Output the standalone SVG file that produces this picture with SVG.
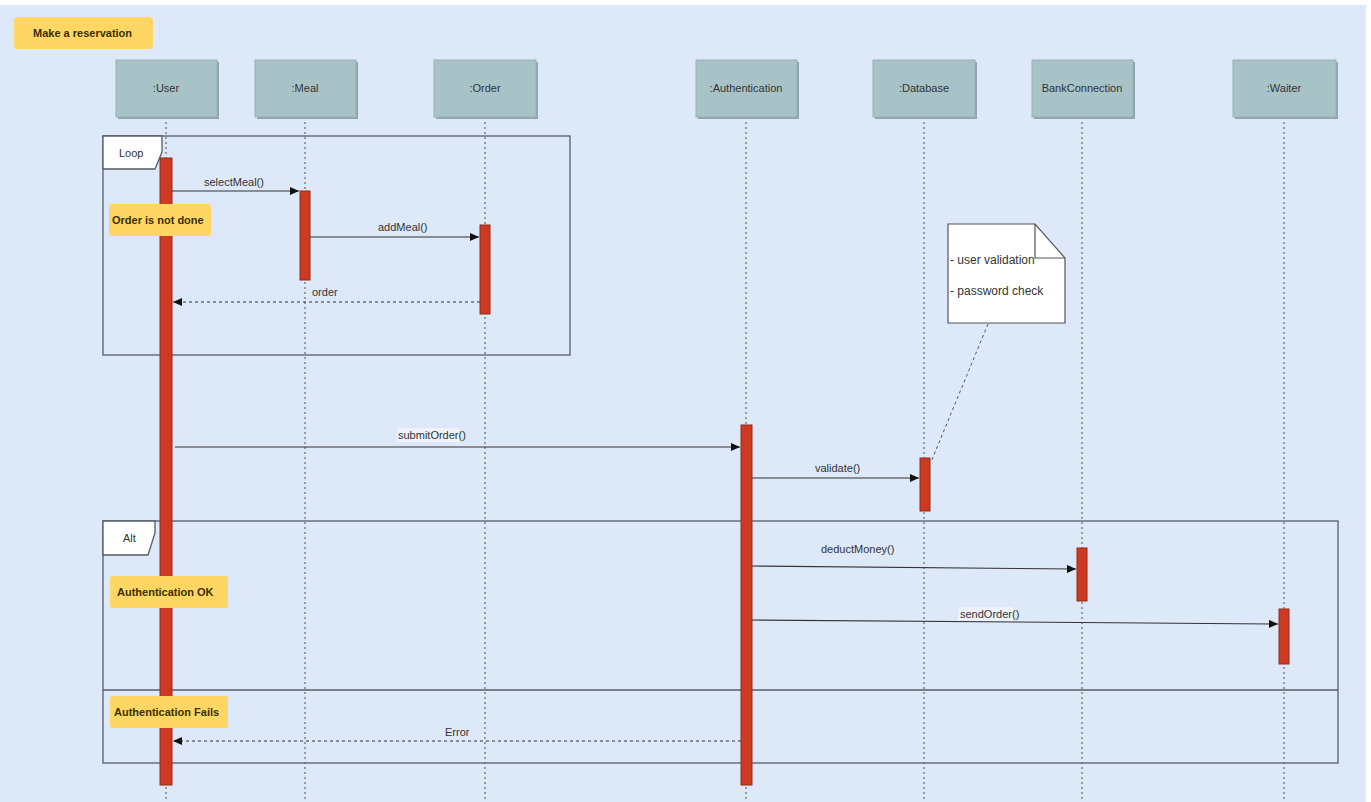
<svg xmlns="http://www.w3.org/2000/svg" width="1371" height="802" viewBox="0 0 1371 802">
<style>
.t{font-family:"Liberation Sans",Arial,sans-serif;font-size:11px;fill:#333}
.n{font-family:"Liberation Sans",Arial,sans-serif;font-size:12px;fill:#333}
.b{font-family:"Liberation Sans",Arial,sans-serif;font-size:11px;font-weight:bold;fill:#3a2e00}
.head{fill:#a8c3c8;stroke:#97b0b5;stroke-width:1}
.sh{fill:#8fa5aa}
.life{stroke:#666;stroke-width:1.2;stroke-dasharray:2 3;fill:none}
.act{fill:#cc3a22;stroke:#9a2a18;stroke-width:1}
.frame{fill:none;stroke:#555c66;stroke-width:1.3}
.tab{fill:#fff;stroke:#555c66;stroke-width:1.3}
.msg{stroke:#333;stroke-width:1.1;fill:none;marker-end:url(#ah)}
.ret{stroke:#333;stroke-width:1.1;fill:none;stroke-dasharray:3 3;marker-end:url(#ah)}
.yn{fill:#fdd663}
</style>
<defs>
<marker id="ah" markerWidth="10" markerHeight="8" refX="9" refY="4" orient="auto" markerUnits="userSpaceOnUse">
<path d="M0,0 L9,4 L0,8 Z" fill="#111"/>
</marker>
</defs>
<rect x="0" y="0" width="1371" height="802" fill="#ffffff"/>
<rect x="0" y="5" width="1366" height="797" fill="#dde8f9"/>

<g id="title">
<rect class="yn" x="14" y="17" width="139" height="32" rx="4"/>
<text class="b" x="33" y="37" font-size="12">Make a reservation</text>
</g>

<g id="frames">
<rect class="frame" x="103" y="136" width="467" height="219"/>
<path class="tab" d="M103,136 H162 V152 L155,169 H103 Z"/>
<text class="t" x="119" y="157">Loop</text>
<rect class="frame" x="103" y="521" width="1235" height="242"/>
<line x1="103" y1="690" x2="1338" y2="690" stroke="#555c66" stroke-width="1.3"/>
<path class="tab" d="M103,521 H155 V533 L148,555 H103 Z"/>
<text class="t" x="123" y="542">Alt</text>
</g>

<g id="lifelines">
<line class="life" x1="166" y1="117" x2="166" y2="802"/>
<line class="life" x1="305" y1="117" x2="305" y2="802"/>
<line class="life" x1="485" y1="117" x2="485" y2="802"/>
<line class="life" x1="746" y1="117" x2="746" y2="802"/>
<line class="life" x1="924" y1="117" x2="924" y2="802"/>
<line class="life" x1="1082" y1="117" x2="1082" y2="802"/>
<line class="life" x1="1284" y1="117" x2="1284" y2="802"/>
</g>

<g id="user"><rect class="sh" x="118" y="62" width="101" height="57"/><rect class="head" x="116" y="60" width="101" height="57"/><text class="t" x="166" y="92" text-anchor="middle">:User</text></g>
<g id="meal"><rect class="sh" x="257" y="62" width="101" height="57"/><rect class="head" x="255" y="60" width="101" height="57"/><text class="t" x="305" y="92" text-anchor="middle">:Meal</text></g>
<g id="order"><rect class="sh" x="436" y="62" width="102" height="57"/><rect class="head" x="434" y="60" width="102" height="57"/><text class="t" x="485" y="92" text-anchor="middle">:Order</text></g>
<g id="authentication"><rect class="sh" x="698" y="62" width="101" height="57"/><rect class="head" x="696" y="60" width="101" height="57"/><text class="t" x="746" y="92" text-anchor="middle">:Authentication</text></g>
<g id="database"><rect class="sh" x="875" y="62" width="102" height="57"/><rect class="head" x="873" y="60" width="102" height="57"/><text class="t" x="924" y="92" text-anchor="middle">:Database</text></g>
<g id="bankconnection"><rect class="sh" x="1034" y="62" width="101" height="57"/><rect class="head" x="1032" y="60" width="101" height="57"/><text class="t" x="1082" y="92" text-anchor="middle">BankConnection</text></g>
<g id="waiter"><rect class="sh" x="1235" y="62" width="103" height="57"/><rect class="head" x="1233" y="60" width="103" height="57"/><text class="t" x="1284" y="92" text-anchor="middle">:Waiter</text></g>

<g id="activations">
<rect class="act" x="160" y="158" width="12" height="627"/>
<rect class="act" x="300" y="191" width="10" height="89"/>
<rect class="act" x="480" y="225" width="10" height="89"/>
<rect class="act" x="741" y="425" width="11" height="360"/>
<rect class="act" x="920" y="458" width="10" height="53"/>
<rect class="act" x="1077" y="548" width="10" height="53"/>
<rect class="act" x="1279" y="609" width="10" height="55"/>
</g>

<g id="guards">
<rect class="yn" x="109" y="204" width="102" height="32" rx="3"/>
<text class="b" x="112" y="224">Order is not done</text>
<rect class="yn" x="110" y="576" width="118" height="32" rx="3"/>
<text class="b" x="117" y="596">Authentication OK</text>
<rect class="yn" x="110" y="696" width="118" height="32" rx="3"/>
<text class="b" x="114" y="716">Authentication Fails</text>
</g>

<g id="note">
<path d="M948,224 H1035 L1065,258 V323 H948 Z" fill="#fff" stroke="#555" stroke-width="1.2"/>
<path d="M1035,224 V258 H1065" fill="none" stroke="#555" stroke-width="1.2"/>
<text class="n" x="950" y="264">- user validation</text>
<text class="n" x="950" y="295">- password check</text>
</g>

<g id="connectors">
<line x1="988" y1="324" x2="931" y2="462" stroke="#555" stroke-width="1" stroke-dasharray="3 3"/>
<line class="msg" x1="172" y1="191" x2="299" y2="191"/>
<text class="t" x="204" y="186">selectMeal()</text>
<line class="msg" x1="310" y1="237" x2="479" y2="237"/>
<text class="t" x="378" y="231">addMeal()</text>
<line class="ret" x1="480" y1="302" x2="173" y2="302"/>
<text class="t" x="312" y="296">order</text>
<line class="msg" x1="175" y1="447" x2="740" y2="447"/>
<rect x="397" y="428" width="62" height="14" fill="#eef3fb"/>
<text class="t" x="398" y="439">submitOrder()</text>
<line class="msg" x1="752" y1="478" x2="919" y2="478"/>
<text class="t" x="815" y="472">validate()</text>
<line class="msg" x1="752" y1="566" x2="1076" y2="569"/>
<text class="t" x="821" y="553">deductMoney()</text>
<line class="msg" x1="752" y1="620" x2="1278" y2="624"/>
<rect x="958" y="607" width="55" height="14" fill="#eef3fb"/>
<text class="t" x="960" y="618">sendOrder()</text>
<line class="ret" x1="741" y1="741" x2="173" y2="741"/>
<text class="t" x="445" y="736">Error</text>
</g>
</svg>
